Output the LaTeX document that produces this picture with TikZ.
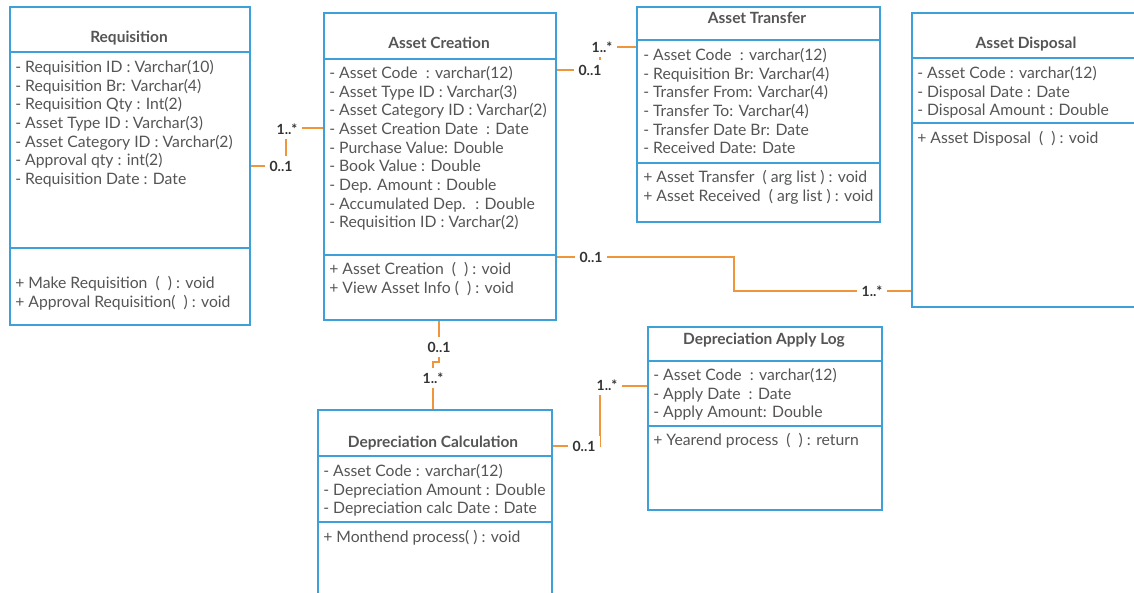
\documentclass[tikz,border=0pt]{standalone}
\usepackage{fontspec}
\setmainfont{Lato}
\usetikzlibrary{calc}
\definecolor{umlblue}{RGB}{62,160,216}
\definecolor{assocorange}{RGB}{239,150,60}
\definecolor{txtgray}{RGB}{85,85,85}
\tikzset{
clsbox/.style 2 args = {draw=umlblue, line width=1.5pt, anchor=north west, inner sep=0pt, minimum width=#1*0.75pt, minimum height=#2*0.75pt},
clsline/.style = {draw=umlblue, line width=1.5pt},
clstitle/.style = {font=\fontsize{11.6}{14}\selectfont\bfseries, text=txtgray, anchor=base, inner sep=0pt},
clstext/.style = {font=\fontsize{11.8}{14}\selectfont, text=txtgray, align=left, anchor=north west, inner sep=0pt},
assoc/.style = {draw=assocorange, line width=1.5pt},
mult/.style = {font=\fontsize{10.5}{12}\selectfont\bfseries, text=black!80, fill=white, inner sep=3.5pt}
}

\begin{document}
\begin{tikzpicture}[x=0.75pt,y=-0.75pt]
%
\fill[white] (0,0) rectangle (1134,592);
\clip (0,0) rectangle (1134,592);
%
% associations
\draw[assoc] (249,166) -| (286,128) -- (323,128);
\draw[assoc] (555,70) -| (600,47) -- (636,47);
\draw[assoc] (555,257) -| (734,291) -- (911,291);
\draw[assoc] (439,319) |- (433,362) -- (433,409);
\draw[assoc] (551,446) -| (600,386) -- (647,386);
%
% classes
\node[clsbox={240}{318}] (req) at (9,6) {};
\node[clsbox={232}{307}] (ac) at (323,12) {};
\node[clsbox={243}{215}] (at) at (636,6) {};
\node[clsbox={230}{294}] (ad) at (911,12) {};
\node[clsbox={234}{191}] (dc) at (317,409) {};
\node[clsbox={234}{183}] (dal) at (647,326) {};
%
\foreach \c/\ya/\yb in {req/52/248,ac/59/255,at/40/163,ad/58/123,dc/456/522,dal/361/426}{
\draw[clsline] (\c.west |- 0,\ya) -- (\c.east |- 0,\ya);
\draw[clsline] (\c.west |- 0,\yb) -- (\c.east |- 0,\yb);
}
%
\node[clstitle] (req-t) at (129,43) {Requisition};
\node[clstext] (req-a) at (15,60) {- Requisition ID : Varchar(10)\\- Requisition Br: Varchar(4)\\- Requisition Qty : Int(2)\\- Asset Type ID : Varchar(3)\\- Asset Category ID : Varchar(2)\\- Approval qty : int(2)\\- Requisition Date : Date};
\node[clstext] (req-m) at (15,276) {+ Make Requisition \ (\ \ ) : void\\+ Approval Requisition(\ \ ) : void};
%
\node[clstitle] (ac-t) at (439,49) {Asset Creation};
\node[clstext] (ac-a) at (329,66) {- Asset Code \ : varchar(12)\\- Asset Type ID : Varchar(3)\\- Asset Category ID : Varchar(2)\\- Asset Creation Date \ : Date\\- Purchase Value: Double\\- Book Value : Double\\- Dep. Amount : Double\\- Accumulated Dep. \ : Double\\- Requisition ID : Varchar(2)};
\node[clstext] (ac-m) at (329,262) {+ Asset Creation \ (\ \ ) : void\\+ View Asset Info (\ \ ) : void};
%
\node[clstitle] (at-t) at (757,24) {Asset Transfer};
\node[clstext] (at-a) at (643,48) {- Asset Code \ : varchar(12)\\- Requisition Br: Varchar(4)\\- Transfer From: Varchar(4)\\- Transfer To: Varchar(4)\\- Transfer Date Br: Date\\- Received Date: Date};
\node[clstext] (at-m) at (643,170) {+ Asset Transfer \ ( arg list ) : void\\+ Asset Received \ ( arg list ) : void};
%
\node[clstitle] (ad-t) at (1026,49) {Asset Disposal};
\node[clstext] (ad-a) at (917,66) {- Asset Code : varchar(12)\\- Disposal Date : Date\\- Disposal Amount : Double};
\node[clstext] (ad-m) at (917,131) {+ Asset Disposal \ (\ \ ) : void};
%
\node[clstitle] (dc-t) at (433,447) {Depreciation Calculation};
\node[clstext] (dc-a) at (323,464) {- Asset Code : varchar(12)\\- Depreciation Amount : Double\\- Depreciation calc Date : Date};
\node[clstext] (dc-m) at (323,530) {+ Monthend process( ) : void};
%
\node[clstitle] (dal-t) at (764,344) {Depreciation Apply Log};
\node[clstext] (dal-a) at (653,368) {- Asset Code \ : varchar(12)\\- Apply Date \ : Date\\- Apply Amount: Double};
\node[clstext] (dal-m) at (653,433) {+ Yearend process \ (\ \ ) : return};
%
% multiplicities
\node[mult] (m1a) at (281,166) {0..1};
\node[mult] (m1b) at (287,129) {1..*};
\node[mult] (m2a) at (590,70) {0..1};
\node[mult] (m2b) at (602,47) {1..*};
\node[mult] (m3a) at (591,257) {0..1};
\node[mult] (m3b) at (872,291) {1..*};
\node[mult] (m4a) at (439,347) {0..1};
\node[mult] (m4b) at (433,378) {1..*};
\node[mult] (m5a) at (584,446) {0..1};
\node[mult] (m5b) at (607,385) {1..*};
%
\end{tikzpicture}
\end{document}
